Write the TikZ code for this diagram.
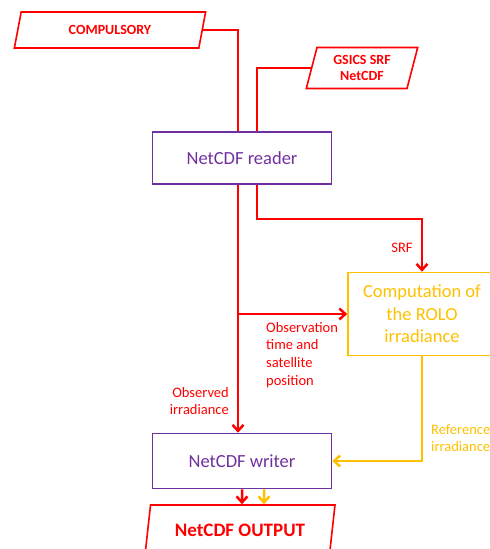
\documentclass[tikz,border=0pt]{standalone}
\usepackage{fontspec}
\setmainfont{Carlito}
\usetikzlibrary{shapes.geometric}
\usetikzlibrary{arrows.meta}

\definecolor{flowred}{RGB}{255,0,0}
\definecolor{procpurple}{RGB}{112,48,160}
\definecolor{roloyellow}{RGB}{255,192,0}

\tikzset{
    datafile/.style={trapezium, trapezium left angle=76, trapezium right angle=104, trapezium stretches=true, draw=flowred, line width=1.6pt, text=flowred, font=\fontsize{14}{16}\selectfont\bfseries, align=center, inner sep=2pt},
    procbox/.style={rectangle, draw=procpurple, line width=1.6pt, text=procpurple, font=\fontsize{18.5}{22.5}\selectfont, align=center},
    flowlabel/.style={font=\fontsize{14.5}{17.7}\selectfont, inner sep=0pt}
}

\begin{document}
\begin{tikzpicture}[x=1pt, y=-1pt, >={Straight Barb[length=6pt,width=11pt]}]
    \useasboundingbox (0,0) rectangle (490,549);

    \node [datafile, minimum width=192pt, minimum height=36pt] (compulsory) at (110, 30) {COMPULSORY};
    \node [datafile, minimum width=112pt, minimum height=41pt] (gsics) at (362, 68) {GSICS SRF\\NetCDF};
    \node [procbox, minimum width=179pt, minimum height=52pt] (reader) at (242, 158) {NetCDF reader};
    \node [procbox, draw=roloyellow, text=roloyellow, minimum width=148pt, minimum height=83pt] (rolo) at (422, 314) {Computation of\\the ROLO\\irradiance};
    \node [procbox, minimum width=179pt, minimum height=55pt] (writer) at (242, 461) {NetCDF writer};
    \node [datafile, font=\fontsize{19}{22}\selectfont\bfseries, minimum width=190pt, minimum height=50pt] (output) at (240, 530) {NetCDF OUTPUT};

    % red inputs
    \draw [flowred, line width=2.5pt] (compulsory.east) -| ([xshift=-4pt]reader.north);
    \draw [flowred, line width=2.5pt] (gsics.west) -| ([xshift=15pt]reader.north);

    % reader outputs
    \draw [->, flowred, line width=2.5pt] ([xshift=15pt]reader.south) -- ++(0,34) -| (rolo.north);
    \draw [->, flowred, line width=2.5pt] ([xshift=-4pt]reader.south) -- ([xshift=-4pt]writer.north);
    \draw [->, flowred, line width=2.5pt] ([xshift=-4pt]reader.south |- rolo.west) -- (rolo.west);

    % rolo to writer
    \draw [->, roloyellow, line width=2.5pt] (rolo.south) |- (writer.east);

    % writer to output
    \draw [->, flowred, line width=2.5pt] (writer.south) -- ([xshift=2pt]output.north);
    \draw [->, roloyellow, line width=2.5pt] ([xshift=22pt]writer.south) -- ([xshift=24pt]output.north);

    \node [flowlabel, text=flowred] (srf) at (402, 248) {SRF};
    \node [flowlabel, text=flowred, align=left, anchor=north west] (obstime) at (266, 322) {Observation\\time and\\satellite\\position};
    \node [flowlabel, text=flowred, align=right, anchor=east] (obsirr) at (229, 401) {Observed\\irradiance};
    \node [flowlabel, text=roloyellow, align=left, anchor=west] (refirr) at (431, 438) {Reference\\irradiance};
\end{tikzpicture}
\end{document}
